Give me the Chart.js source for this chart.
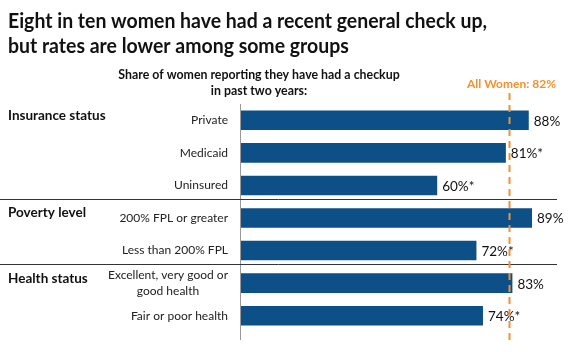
<!DOCTYPE html>
<html>
<head>
<meta charset="utf-8">
<script src="https://cdn.jsdelivr.net/npm/chart.js@4.4.1/dist/chart.umd.min.js"></script>
<style>
  html, body { margin: 0; padding: 0; background: #fff; }
  #wrap { width: 570px; height: 352px; position: relative; }
</style>
</head>
<body>
<div id="wrap"><canvas id="myChart"></canvas></div>
<script>
const categories = [
  ['Private'],
  ['Medicaid'],
  ['Uninsured'],
  ['200% FPL or greater'],
  ['Less than 200% FPL'],
  ['Excellent, very good or', 'good health'],
  ['Fair or poor health']
];
const values = [88, 81, 60, 89, 72, 83, 74];
const valueLabels = ['88%', '81%*', '60%*', '89%', '72%*', '83%', '74%*'];
const groups = ['Insurance status', 'Poverty level', 'Health status'];
const groupStart = [0, 3, 5];
const allWomen = 82;
const allWomenLabel = 'All Women: 82%';

const FONT = 'Lato, "Open Sans", sans-serif';
const BAR = '#0d4f87';
const ORANGE = '#f5912c';

// draw text squeezed horizontally (the original uses a narrow font)
function narrowText(ctx, text, x, y, sx) {
  ctx.save();
  ctx.translate(x, y);
  ctx.scale(sx, 1);
  ctx.fillText(text, 0, 0);
  ctx.restore();
}

const overlay = {
  id: 'overlay',
  afterDraw(chart) {
    const {ctx, scales: {x, y}} = chart;
    ctx.save();

    // title
    ctx.fillStyle = '#111';
    ctx.textAlign = 'left';
    ctx.textBaseline = 'alphabetic';
    ctx.font = 'bold 21px ' + FONT;
    const t1 = 'Eight in ten women have had a recent general check up,';
    const sx = 479 / ctx.measureText(t1).width;
    narrowText(ctx, t1, 8, 28, sx);
    narrowText(ctx, 'but rates are lower among some groups', 8, 53, sx);

    // subtitle
    ctx.textAlign = 'center';
    ctx.font = 'bold 13px ' + FONT;
    narrowText(ctx, 'Share of women reporting they have had a checkup', 259, 79, 0.95);
    narrowText(ctx, 'in past two years:', 259, 95, 0.95);

    // axis line
    ctx.strokeStyle = '#9a9a9a';
    ctx.lineWidth = 1;
    ctx.beginPath();
    ctx.moveTo(240.5, 104);
    ctx.lineTo(240.5, 340);
    ctx.stroke();

    // category labels
    ctx.fillStyle = '#222';
    ctx.font = '12px ' + FONT;
    ctx.textBaseline = 'middle';
    categories.forEach((lines, i) => {
      const cy = y.getPixelForValue(i);
      const w = Math.max(...lines.map(l => ctx.measureText(l).width));
      const cx = 228 - w / 2;
      ctx.textAlign = 'center';
      lines.forEach((l, k) => {
        ctx.fillText(l, cx, cy + (k - (lines.length - 1) / 2) * 16);
      });
    });

    // group labels
    ctx.textAlign = 'left';
    ctx.font = 'bold 13.5px ' + FONT;
    ctx.fillStyle = '#111';
    groups.forEach((g, i) => {
      ctx.fillText(g, 8, y.getPixelForValue(groupStart[i]) - 5);
    });

    // separators
    ctx.strokeStyle = '#333';
    ctx.lineWidth = 1;
    groupStart.slice(1).forEach(s => {
      const yy = Math.round((y.getPixelForValue(s - 1) + y.getPixelForValue(s)) / 2 - 3) + 0.5;
      ctx.beginPath();
      ctx.moveTo(0, yy);
      ctx.lineTo(557, yy);
      ctx.stroke();
    });

    // value labels
    ctx.fillStyle = '#111';
    ctx.font = '13.5px ' + FONT;
    ctx.textAlign = 'left';
    ctx.textBaseline = 'middle';
    values.forEach((v, i) => {
      ctx.fillText(valueLabels[i], x.getPixelForValue(v) + 5, y.getPixelForValue(i) + 1);
    });

    // all women reference line
    const ax = Math.round(x.getPixelForValue(allWomen)) + 0.5;
    ctx.strokeStyle = ORANGE;
    ctx.lineWidth = 2;
    ctx.setLineDash([7, 5]);
    ctx.beginPath();
    ctx.moveTo(ax, 93);
    ctx.lineTo(ax, 342);
    ctx.stroke();
    ctx.setLineDash([]);

    ctx.fillStyle = ORANGE;
    ctx.font = 'bold 12px ' + FONT;
    ctx.textAlign = 'center';
    ctx.textBaseline = 'alphabetic';
    ctx.fillText(allWomenLabel, ax + 2, 88);

    ctx.restore();
  }
};

new Chart(document.getElementById('myChart'), {
  type: 'bar',
  data: {
    labels: categories,
    datasets: [{
      data: values,
      backgroundColor: BAR,
      borderWidth: 0,
      barPercentage: 0.6,
      categoryPercentage: 1
    }]
  },
  options: {
    indexAxis: 'y',
    responsive: true,
    maintainAspectRatio: false,
    animation: false,
    layout: { padding: { top: 104, right: 2, bottom: 20, left: 0 } },
    plugins: { legend: { display: false }, tooltip: { enabled: false } },
    scales: {
      x: { min: 0, max: 100, display: false },
      y: {
        grid: { display: false },
        border: { display: false },
        ticks: { display: false },
        afterFit(scale) { scale.width = 241; }
      }
    }
  },
  plugins: [overlay]
});
</script>
</body>
</html>
